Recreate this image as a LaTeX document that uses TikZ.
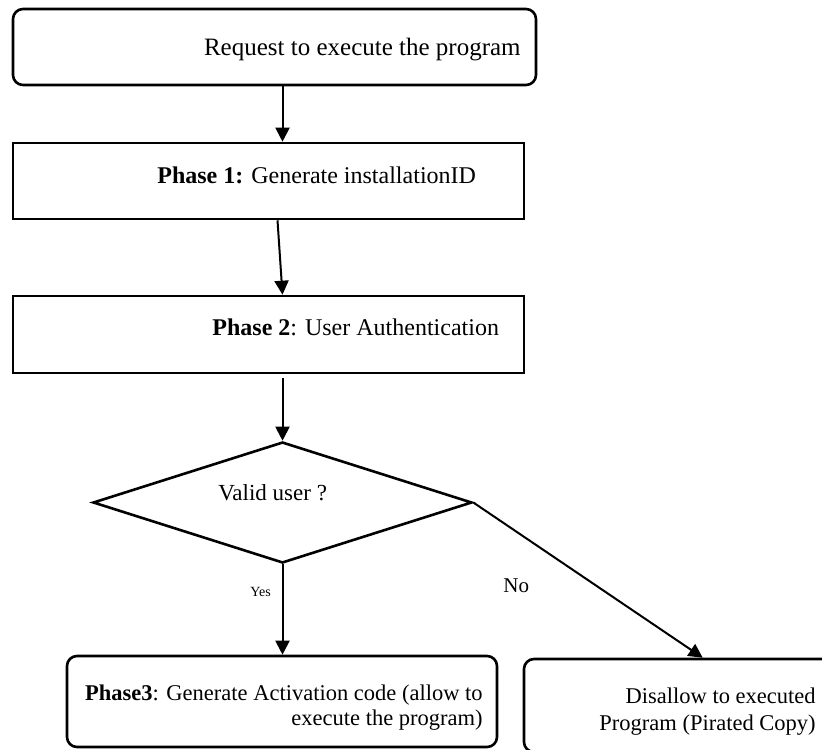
\documentclass[tikz,border=0pt]{standalone}
\usepackage{fontspec}
\setmainfont{Liberation Serif}
\usetikzlibrary{shapes.geometric,arrows.meta,calc}
\begin{document}
\begin{tikzpicture}[x=0.5pt,y=-0.5pt,
  box/.style={draw,line width=1.3pt,inner sep=0pt,rectangle},
  rbox/.style={box,rounded corners=5pt},
  txt/.style={inner sep=0pt,font=\fontsize{12}{14}\selectfont},
  stxt/.style={inner sep=0pt,font=\fontsize{11.25}{13}\selectfont},
  arr/.style={line width=1pt,-{Triangle[length=7pt,width=7pt]}}]
\useasboundingbox (0,0) rectangle (822,749);
\clip (0,0) rectangle (822,749);
\fill[white] (0,0) rectangle (822,749);
% boxes
\node[rbox,minimum width=261.5pt,minimum height=38pt] (b1) at (274.5,47) {};
\node[box,minimum width=255.5pt,minimum height=38pt] (b2) at (268.5,181) {};
\node[box,minimum width=255.5pt,minimum height=38.5pt] (b3) at (268.5,334.5) {};
\node[draw,line width=1.3pt,diamond,inner sep=0pt,minimum width=189.5pt,minimum height=60.5pt] (d) at (282.5,502.5) {};
\node[rbox,minimum width=215pt,minimum height=45.5pt] (b4) at (282,701.5) {};
\node[rbox,minimum width=160.5pt,minimum height=46.5pt] (b5) at (684.5,705.5) {};
% texts
\node[txt,font=\fontsize{12.5}{14}\selectfont,anchor=base east] (t1) at (521,55) {Request to execute the program};
\node[txt,anchor=base west] (t2) at (157,183) {\textbf{Phase 1:} Generate installationID};
\node[txt,anchor=base west] (t3) at (212,335) {\textbf{Phase 2}: User Authentication};
\node[txt,font=\fontsize{11.5}{14}\selectfont,anchor=base west] (tv) at (218,500) {Valid user ?};
\node[stxt,anchor=base east] (t4a) at (483,700) {\textbf{Phase3}: Generate Activation code (allow to};
\node[stxt,anchor=base east] (t4b) at (483,725) {execute the program)};
\node[stxt,anchor=base east] (t5a) at (816,703) {Disallow to executed};
\node[stxt,anchor=base east] (t5b) at (816,730) {Program (Pirated Copy)};
\node[inner sep=0pt,font=\fontsize{7}{8}\selectfont,anchor=base west] (ly) at (250,596) {Yes};
\node[inner sep=0pt,font=\fontsize{10.5}{12}\selectfont,anchor=base west] (ln) at (503,592) {No};
% connectors
\coordinate (noend) at ($(b5.north west)+(90pt,0)$);
\draw[arr] (b1.south -| d.north) -- (b2.north -| d.north);
\draw[arr] ($(b2.south -| d.north)+(-2.5pt,0)$) -- (b3.north -| d.north);
\draw[arr,shorten <=2pt] (b3.south -| d.north) -- (d.north);
\draw[arr] (d.south) -- (b4.north -| d.south);
\draw[arr] (d.east) -- (noend);
\end{tikzpicture}
\end{document}
